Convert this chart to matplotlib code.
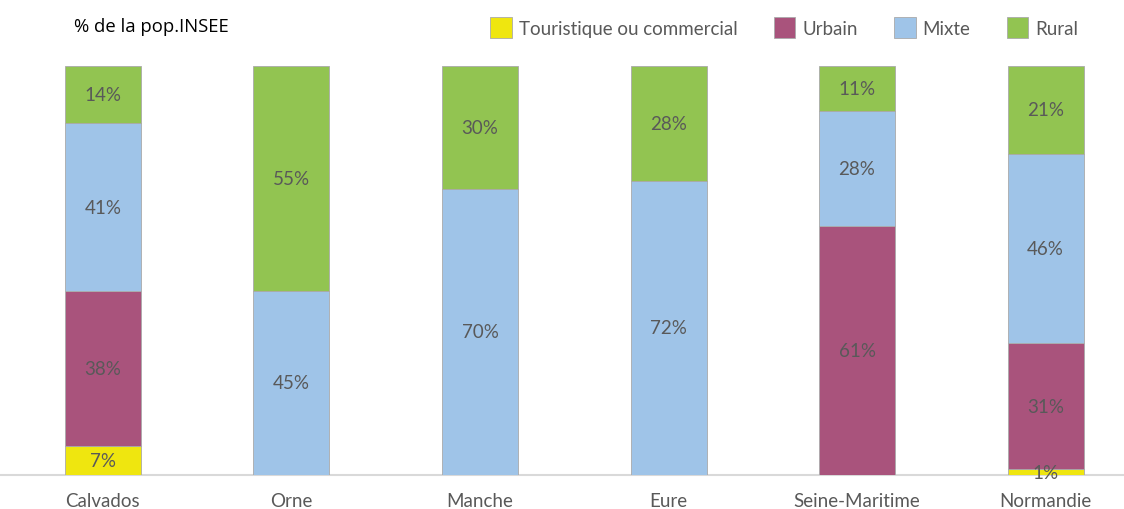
import matplotlib.pyplot as plt
import numpy as np

plt.rcParams['font.family'] = ['Lato', 'DejaVu Sans']

departements = ['Calvados', 'Orne', 'Manche', 'Eure', 'Seine-Maritime', 'Normandie']
series = ['Touristique ou commercial', 'Urbain', 'Mixte', 'Rural']
touristique = [7, 0, 0, 0, 0, 1.4]
urbain = [38, 0, 0, 0, 61, 30.9]
mixte = [41, 45, 70, 72, 28, 46.3]
rural = [14, 55, 30, 28, 11, 21.4]

colors = ['#EFE60F', '#A9537C', '#9FC4E8', '#92C451']
text_col = '#595959'

fig = plt.figure(figsize=(11.24, 5.10), dpi=100)
ax = fig.add_axes([0, 34 / 510, 1, 409 / 510])

x = np.arange(len(departements))
bottom = np.zeros(len(departements))
for name, vals, col in zip(series, [touristique, urbain, mixte, rural], colors):
    vals = np.array(vals, dtype=float)
    ax.bar(x, vals, 0.403, bottom=bottom, color=col, edgecolor='#AAAAAA',
           linewidth=0.6, label=name)
    for xi, v, b in zip(x, vals, bottom):
        if v > 0:
            ax.text(xi, b + v / 2, f'{round(v)}%', ha='center', va='center',
                    fontsize=13.5, color=text_col)
    bottom += vals

ax.set_xlim(-0.546, 5.416)
ax.set_ylim(0, 100)
ax.axhline(0, color='#D9D9D9', linewidth=1.5, zorder=0, clip_on=False)
for s in ax.spines.values():
    s.set_visible(False)
ax.set_yticks([])
ax.set_xticks(x)
ax.set_xticklabels(departements, fontsize=13.5, color=text_col)
ax.tick_params(axis='x', length=0, pad=12)

fig.text(0.066, 0.948, '% de la pop.INSEE', fontsize=13.3, color='black',
         family=['Open Sans', 'DejaVu Sans'], va='center')

leg = fig.legend(loc='center left', bbox_to_anchor=(0.428, 0.944), ncol=4,
                 frameon=False, fontsize=13.5, handlelength=1.15, handleheight=1.4,
                 handletextpad=0.35, columnspacing=1.95, borderpad=0)
for t in leg.get_texts():
    t.set_color(text_col)

fig.savefig('out.png', dpi=100)
